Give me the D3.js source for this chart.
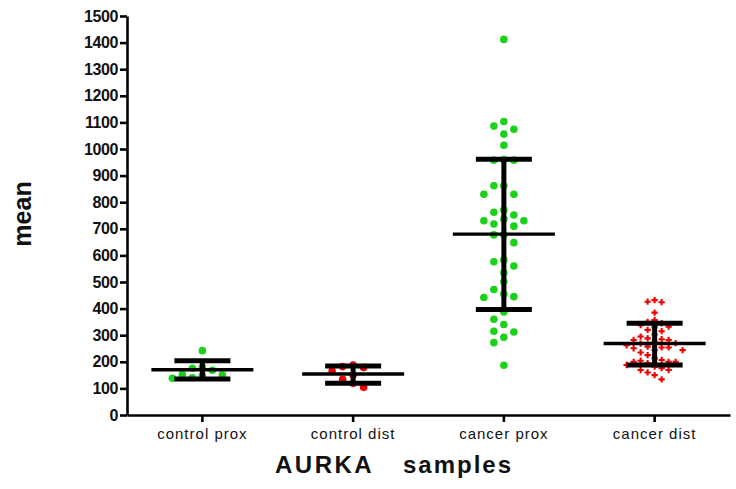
<!DOCTYPE html>
<html lang="en">
<head>
  <meta charset="utf-8">
  <script src="https://d3js.org/d3.v7.min.js"></script>
  <style>
    body { margin: 0; background: #fff; }
    svg { display: block; font-family: "Liberation Sans", Arial, sans-serif; }
  </style>
</head>
<body>
  <svg width="736" height="489"></svg>

  <script>
    const width = 736, height = 489;

    // groups on the x axis
    const categories = ["control prox", "control dist", "cancer prox", "cancer dist"];
    const groupColors = ["#19d219", "#f00000", "#19d219", "#f00000"];

    // mean and SD bars
    const means = [170, 154, 680, 269];
    const sdUpper = [204, 184, 961, 345];
    const sdLower = [135, 119, 397, 188];

    // individual samples per group
    const controlProx = [242, 180, 176, 168, 152, 150, 148, 140, 138];
    const controlDist = [188, 182, 179, 165, 150, 134, 119, 104];
    const cancerProx = [1412, 1103, 1086, 1074, 1056, 1014, 960, 958, 958, 862, 862, 830, 830,
      771, 762, 752, 737, 730, 730, 718, 710, 677, 677, 648, 583, 576, 560, 535, 501, 472,
      455, 445, 442, 387, 360, 340, 315, 312, 292, 272, 187];
    const cancerDist = [432, 426, 424, 385, 357, 350, 345, 338, 332, 330, 320, 315, 303, 295,
      288, 285, 282, 282, 275, 270, 268, 262, 257, 254, 254, 251, 244, 244, 235, 225, 213,
      207, 204, 200, 200, 200, 195, 188, 182, 176, 169, 169, 160, 150, 134];
    const samples = [controlProx, controlDist, cancerProx, cancerDist];

    const yTicks = d3.range(0, 1501, 100);

    const svg = d3.select("svg");

    const x = d3.scaleBand().domain(categories).range([127, 730]);
    const y = d3.scaleLinear().domain([0, 1500]).range([415, 16]);
    const cx = c => x(c) + x.bandwidth() / 2;

    // y axis
    const yAxis = svg.append("g")
      .attr("transform", "translate(127,0)")
      .call(d3.axisLeft(y).tickValues(yTicks).tickFormat(d3.format("d"))
        .tickSize(7).tickPadding(2).tickSizeOuter(0));
    yAxis.select(".domain").attr("stroke", "#000").attr("stroke-width", 2.6);
    yAxis.selectAll(".tick line").attr("stroke", "#000").attr("stroke-width", 2.6);
    yAxis.selectAll(".tick text")
      .attr("fill", "#111")
      .style("font-size", "16px")
      .style("font-weight", "bold")
      .style("letter-spacing", "-0.4px");

    // x axis
    const xAxis = svg.append("g")
      .attr("transform", "translate(0,415)")
      .call(d3.axisBottom(x).tickSize(7).tickPadding(6).tickSizeOuter(0));
    xAxis.select(".domain").attr("stroke", "#000").attr("stroke-width", 2.6);
    xAxis.selectAll(".tick line").attr("stroke", "#000").attr("stroke-width", 2.6);
    xAxis.selectAll(".tick text")
      .attr("fill", "#111")
      .style("font-size", "15px")
      .style("letter-spacing", "1px");

    // simple column swarm so overlapping samples sit side by side
    function swarm(values, step, h) {
      const placed = [];
      values.slice().sort((a, b) => b - a).forEach(v => {
        const py = y(v);
        for (let k = 0; k < 20; k++) {
          const off = k === 0 ? 0 : (k % 2 ? -1 : 1) * Math.ceil(k / 2) * step;
          const hit = placed.some(p => Math.abs(p.dx - off) < step * 0.9 && Math.abs(p.py - py) < h);
          if (!hit) { placed.push({ v, dx: off, py }); break; }
        }
      });
      return placed;
    }

    const swarmStep = [10, 10.5, 10, 7];
    const swarmH = [8, 8, 9, 7];

    categories.forEach((cat, i) => {
      const g = svg.append("g");
      const pts = swarm(samples[i], swarmStep[i], swarmH[i]);

      if (i === 3) {
        g.selectAll("path.pt").data(pts).enter().append("path")
          .attr("class", "pt")
          .attr("d", d3.symbol().type(d3.symbolCross).size(22))
          .attr("transform", d => `translate(${cx(cat) + d.dx},${d.py})`)
          .attr("fill", groupColors[i]);
      } else {
        g.selectAll("circle.pt").data(pts).enter().append("circle")
          .attr("class", "pt")
          .attr("cx", d => cx(cat) + d.dx)
          .attr("cy", d => d.py)
          .attr("r", 3.8)
          .attr("fill", groupColors[i]);
      }

      // SD whisker
      g.append("line")
        .attr("x1", cx(cat)).attr("x2", cx(cat))
        .attr("y1", y(sdUpper[i])).attr("y2", y(sdLower[i]))
        .attr("stroke", "#000").attr("stroke-width", 5);
      [sdUpper[i], sdLower[i]].forEach(v => {
        g.append("line")
          .attr("x1", cx(cat) - 28).attr("x2", cx(cat) + 28)
          .attr("y1", y(v)).attr("y2", y(v))
          .attr("stroke", "#000").attr("stroke-width", 5);
      });
      // mean
      g.append("line")
        .attr("x1", cx(cat) - 51).attr("x2", cx(cat) + 51)
        .attr("y1", y(means[i])).attr("y2", y(means[i]))
        .attr("stroke", "#000").attr("stroke-width", 3.4);
    });

    // axis titles
    svg.append("text")
      .attr("transform", "translate(31,214) rotate(-90)")
      .attr("text-anchor", "middle")
      .style("font-size", "25px")
      .style("font-weight", "bold")
      .attr("fill", "#111")
      .text("mean");

    const title = svg.append("text")
      .attr("x", 275).attr("y", 473)
      .style("font-size", "24px")
      .style("font-weight", "bold")
      .attr("fill", "#111");
    title.append("tspan").style("letter-spacing", "2.5px").text("AURKA");
    title.append("tspan").attr("x", 403).style("letter-spacing", "2px").text("samples");
  </script>
</body>
</html>
